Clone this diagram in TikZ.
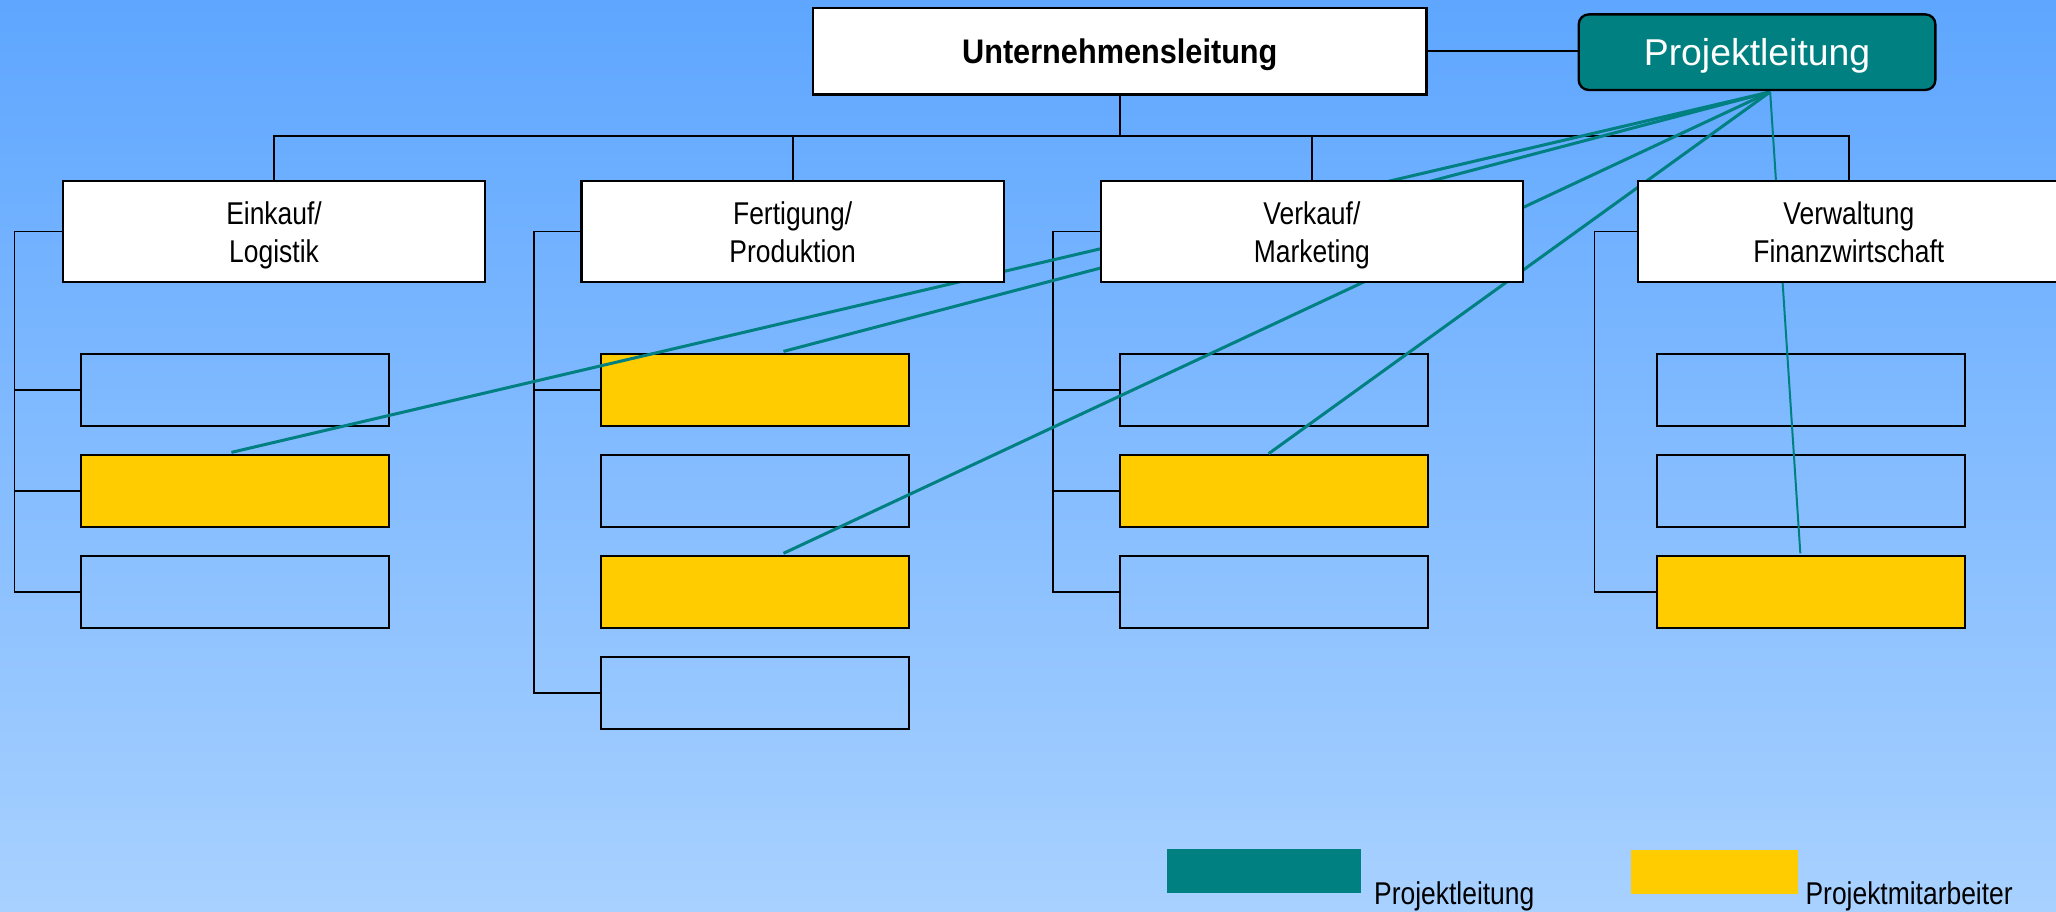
\documentclass[tikz,border=0pt]{standalone}
\usepackage{fontspec}
\setmainfont{Liberation Sans}[FakeStretch=0.84]
\newfontfamily\ulfont{Liberation Sans}[FakeStretch=0.9]
\newfontfamily\plfont{Liberation Sans}
\usetikzlibrary{calc}
\definecolor{bgtop}{RGB}{94,166,255}
\definecolor{bgbot}{RGB}{168,209,255}
\definecolor{myteal}{RGB}{0,128,128}
\definecolor{myyellow}{RGB}{255,204,0}
\pgfdeclarelayer{bglayer}
\pgfdeclarelayer{lower}
\pgfdeclarelayer{middle}
\pgfsetlayers{bglayer,lower,middle,main}
\newcommand{\dl}[2]{#1\\#2\vphantom{g}}
\begin{document}
\begin{tikzpicture}[x=0.5pt,y=-0.5pt,
  topbox/.style={draw=black, line width=1pt, fill=white, minimum width=234pt, minimum height=33pt, inner sep=0pt, outer sep=0pt, text height=10pt, text depth=0.7pt, font=\ulfont\bfseries\fontsize{13}{15}\selectfont},
  plbox/.style={draw=black, line width=0.9pt, fill=myteal, rounded corners=3.8pt, minimum width=136pt, minimum height=28.8pt, inner sep=0pt, outer sep=0pt, text=white, text height=11pt, text depth=1.2pt, font=\plfont\fontsize{14.25}{17}\selectfont},
  dept/.style={draw=black, line width=0.9pt, fill=white, minimum width=161pt, minimum height=38.5pt, inner sep=0pt, outer sep=0pt, align=center, font=\fontsize{12}{14.7}\selectfont},
  depttext/.style={inner sep=0pt, outer sep=0pt, align=center, font=\fontsize{12}{14.7}\selectfont, yshift=-1.5pt},
  sub/.style={draw=black, line width=0.75pt, minimum width=117.5pt, minimum height=27.5pt, inner sep=0pt, outer sep=0pt},
  yel/.style={sub, fill=myyellow},
  conn/.style={draw=black, line width=0.7pt},
  tl/.style={draw=myteal, line width=1.15pt},
  legtext/.style={inner sep=0pt, outer sep=0pt, font=\fontsize{12}{14}\selectfont}
]
\useasboundingbox (0,0) rectangle (1568,695.5);
\begin{pgfonlayer}{bglayer}
\shade[top color=bgtop, bottom color=bgbot] (0,0) rectangle (1568,695.5);
\end{pgfonlayer}

% main boxes
\node[topbox] (ul) at (854,39) {Unternehmensleitung};
\node[plbox] (pl) at (1340,39.8) {Projektleitung};
\node[dept] (d1) at (209,176.5) {};
\node[dept] (d2) at (604.5,176.5) {};
\node[dept] (d3) at (1000.5,176.5) {};
\node[dept] (d4) at (1410,176.5) {};
\node[depttext] (t1) at (d1) {\dl{Einkauf/}{Logistik}};
\node[depttext] (t2) at (d2) {\dl{Fertigung/}{Produktion}};
\node[depttext] (t3) at (d3) {\dl{Verkauf/}{Marketing}};
\node[depttext] (t4) at (d4) {\dl{Verwaltung}{Finanzwirtschaft}};

\begin{pgfonlayer}{lower}
% sub boxes
\node[sub] (s11) at (179.5,297.5) {};
\node[yel] (s12) at (179.5,374.5) {};
\node[sub] (s13) at (179.5,451.5) {};
\node[yel] (s21) at (575.5,297.5) {};
\node[sub] (s22) at (575.5,374.5) {};
\node[yel] (s23) at (575.5,451.5) {};
\node[sub] (s24) at (575.5,528.5) {};
\node[sub] (s31) at (971.5,297.5) {};
\node[yel] (s32) at (971.5,374.5) {};
\node[sub] (s33) at (971.5,451.5) {};
\node[sub] (s41) at (1381,297.5) {};
\node[sub] (s42) at (1381,374.5) {};
\node[yel] (s43) at (1381,451.5) {};
% tree
\coordinate (bus) at (854,104);
\draw[conn] (ul.south) -- (bus);
\draw[conn] (bus) -| (d1.north);
\draw[conn] (bus) -| (d2.north);
\draw[conn] (bus) -| (d3.north);
\draw[conn] (bus) -| (d4.north);
\draw[conn] (ul.east) -- (ul.east -| pl.west);
% brackets
\coordinate (b1) at (11,176.5);
\coordinate (b2) at (407,176.5);
\coordinate (b3) at (803,176.5);
\coordinate (b4) at (1216,176.5);
\draw[conn] (d1.west) -- (b1) |- (s13.west);
\draw[conn] (b1 |- s11.west) -- (s11.west);
\draw[conn] (b1 |- s12.west) -- (s12.west);
\draw[conn] (d2.west) -- (b2) |- (s24.west);
\draw[conn] (b2 |- s21.west) -- (s21.west);
\draw[conn] (d3.west) -- (b3) |- (s33.west);
\draw[conn] (b3 |- s31.west) -- (s31.west);
\draw[conn] (b3 |- s32.west) -- (s32.west);
\draw[conn] (d4.west) -- (b4) |- (s43.west);
\end{pgfonlayer}

\begin{pgfonlayer}{middle}
\coordinate (hub) at ($(pl.south)+(10,1.5)$);
\draw[tl] (hub) -- ($(s12.north)+(-3,-2)$);
\draw[tl] (hub) -- ($(s21.north)+(22,-2)$);
\draw[tl] (hub) -- ($(s23.north)+(22,-2)$);
\draw[tl] (hub) -- ($(s32.north)+(-4,-1)$);
\draw[tl, line width=0.76pt] (hub) -- ($(s43.north)+(-8,-2)$);
\end{pgfonlayer}

% legend
\node[fill=myteal, minimum width=74pt, minimum height=16.8pt, inner sep=0pt] (lg1) at (964,664.4) {};
\node[legtext, anchor=base west] (lt1) at (1048,689.6) {Projektleitung};
\node[fill=myyellow, minimum width=63.5pt, minimum height=16.8pt, inner sep=0pt] (lg2) at (1307.5,664.7) {};
\node[legtext, anchor=base west] (lt2) at (1377,689.6) {Projektmitarbeiter};
\end{tikzpicture}
\end{document}
